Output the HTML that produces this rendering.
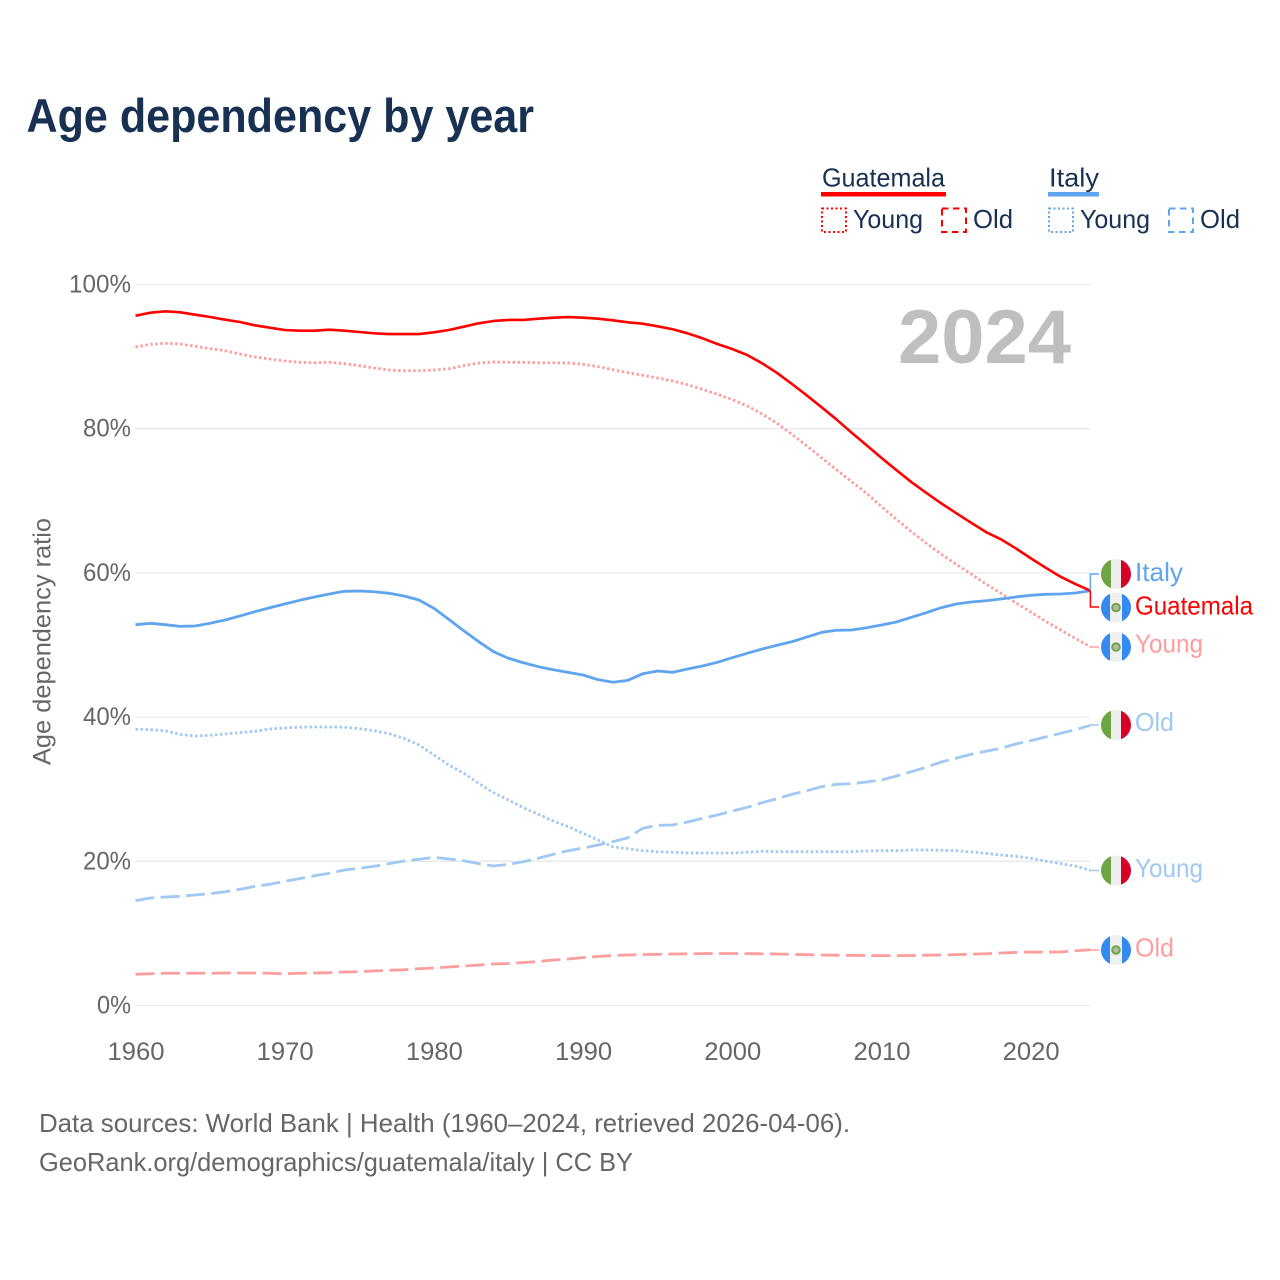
<!DOCTYPE html>
<html lang="en">
<head>
<meta charset="utf-8">
<title>Age dependency by year</title>
<style>
html,body{margin:0;padding:0;background:#fff;width:1280px;height:1280px;overflow:hidden}
svg{display:block}
text{font-family:"Liberation Sans",sans-serif}
</style>
</head>
<body>
<svg id="chart" xmlns="http://www.w3.org/2000/svg" width="1280" height="1280" viewBox="0 0 1280 1280">
<defs><clipPath id="flag-clip"><circle cx="0" cy="0" r="15"/></clipPath></defs>
<rect x="0" y="0" width="1280" height="1280" fill="#ffffff"/>
<text x="26.5" y="132" font-size="47" font-weight="700" fill="#183153" textLength="507.5" lengthAdjust="spacingAndGlyphs">Age dependency by year</text>

<g fill="#183153" font-size="26">
  <text x="822" y="186.5" textLength="123" lengthAdjust="spacingAndGlyphs">Guatemala</text>
  <rect x="821" y="192" width="125" height="4.5" fill="#ff0000" stroke="none"/>
  <rect x="822" y="208.5" width="24" height="23.5" fill="none" stroke="#ff0000" stroke-width="2" stroke-dasharray="2 2.5"/>
  <text x="853" y="228" textLength="70" lengthAdjust="spacingAndGlyphs">Young</text>
  <rect x="942" y="208.5" width="24" height="23.5" fill="none" stroke="#ff0000" stroke-width="2" stroke-dasharray="6.5 4.5"/>
  <text x="973" y="228" textLength="40" lengthAdjust="spacingAndGlyphs">Old</text>
  <text x="1049" y="186.5" textLength="50" lengthAdjust="spacingAndGlyphs">Italy</text>
  <rect x="1048" y="192" width="51" height="4.5" fill="#5fa5ee" stroke="none"/>
  <rect x="1049" y="208.5" width="24" height="23.5" fill="none" stroke="#5fa5ee" stroke-width="2" stroke-dasharray="2 2.5"/>
  <text x="1080" y="228" textLength="70" lengthAdjust="spacingAndGlyphs">Young</text>
  <rect x="1169" y="208.5" width="24" height="23.5" fill="none" stroke="#5fa5ee" stroke-width="2" stroke-dasharray="6.5 4.5"/>
  <text x="1200" y="228" textLength="40" lengthAdjust="spacingAndGlyphs">Old</text>
</g>

<g id="grid"></g>
<g id="y-ticks" font-size="25" fill="#666666" text-anchor="end"></g>
<g id="x-ticks" font-size="25" fill="#666666" text-anchor="middle"></g>
<text transform="translate(50.5,765) rotate(-90)" font-size="25" fill="#666666" textLength="247" lengthAdjust="spacingAndGlyphs">Age dependency ratio</text>
<text x="898" y="363" font-size="76" font-weight="700" fill="#bfbfbf" textLength="173" lengthAdjust="spacingAndGlyphs">2024</text>

<g id="series" fill="none"></g>

<g transform="translate(1116,574)"><g clip-path="url(#flag-clip)"><rect x="-15" y="-15" width="30" height="30" fill="#eeeeee"/><rect x="-15" y="-15" width="10" height="30" fill="#6da544"/><rect x="5" y="-15" width="10" height="30" fill="#d80027"/></g></g>
<g transform="translate(1116,607.5)"><g clip-path="url(#flag-clip)"><rect x="-15" y="-15" width="30" height="30" fill="#f0f0f0"/><rect x="-15" y="-15" width="9" height="30" fill="#338af3"/><rect x="6" y="-15" width="9" height="30" fill="#338af3"/><circle r="3.8" fill="#b9b9a6" stroke="#6da544" stroke-width="2"/></g></g>
<g transform="translate(1116,647)"><g clip-path="url(#flag-clip)"><rect x="-15" y="-15" width="30" height="30" fill="#f0f0f0"/><rect x="-15" y="-15" width="9" height="30" fill="#338af3"/><rect x="6" y="-15" width="9" height="30" fill="#338af3"/><circle r="3.8" fill="#b9b9a6" stroke="#6da544" stroke-width="2"/></g></g>
<g transform="translate(1116,725)"><g clip-path="url(#flag-clip)"><rect x="-15" y="-15" width="30" height="30" fill="#eeeeee"/><rect x="-15" y="-15" width="10" height="30" fill="#6da544"/><rect x="5" y="-15" width="10" height="30" fill="#d80027"/></g></g>
<g transform="translate(1116,870.5)"><g clip-path="url(#flag-clip)"><rect x="-15" y="-15" width="30" height="30" fill="#eeeeee"/><rect x="-15" y="-15" width="10" height="30" fill="#6da544"/><rect x="5" y="-15" width="10" height="30" fill="#d80027"/></g></g>
<g transform="translate(1116,950)"><g clip-path="url(#flag-clip)"><rect x="-15" y="-15" width="30" height="30" fill="#f0f0f0"/><rect x="-15" y="-15" width="9" height="30" fill="#338af3"/><rect x="6" y="-15" width="9" height="30" fill="#338af3"/><circle r="3.8" fill="#b9b9a6" stroke="#6da544" stroke-width="2"/></g></g>

<g font-size="26">
  <text x="1135" y="581" fill="#5fa5ee" textLength="48" lengthAdjust="spacingAndGlyphs">Italy</text>
  <text x="1135" y="614.5" fill="#ff0000" textLength="118" lengthAdjust="spacingAndGlyphs">Guatemala</text>
  <text x="1135" y="652.5" fill="#ff9d9d" textLength="68" lengthAdjust="spacingAndGlyphs">Young</text>
  <text x="1135" y="731" fill="#9fc8f2" textLength="39" lengthAdjust="spacingAndGlyphs">Old</text>
  <text x="1135" y="877" fill="#9fc8f2" textLength="68" lengthAdjust="spacingAndGlyphs">Young</text>
  <text x="1135" y="956.5" fill="#ff9d9d" textLength="39" lengthAdjust="spacingAndGlyphs">Old</text>
</g>

<text x="39" y="1132" font-size="26" fill="#666666" textLength="811" lengthAdjust="spacingAndGlyphs">Data sources: World Bank | Health (1960–2024, retrieved 2026-04-06).</text>
<text x="39" y="1171" font-size="26" fill="#666666" textLength="594" lengthAdjust="spacingAndGlyphs">GeoRank.org/demographics/guatemala/italy | CC BY</text>
</svg>

<script>
const startYear = 1960;
const yTickValues = [0, 20, 40, 60, 80, 100];
const yTickLabels = ["0%", "20%", "40%", "60%", "80%", "100%"];
const xTickYears = [1960, 1970, 1980, 1990, 2000, 2010, 2020];
const guatemalaTotal = [95.67,96.09,96.28,96.14,95.81,95.49,95.12,94.80,94.34,94.01,93.69,93.59,93.59,93.73,93.59,93.41,93.23,93.13,93.13,93.13,93.37,93.69,94.15,94.62,94.94,95.08,95.08,95.26,95.40,95.49,95.40,95.26,95.03,94.76,94.56,94.20,93.79,93.23,92.54,91.75,91.05,90.22,89.07,87.73,86.20,84.60,82.95,81.25,79.45,77.70,75.95,74.25,72.60,71.10,69.65,68.30,66.96,65.67,64.66,63.41,62.03,60.72,59.47,58.45,57.53];
const guatemalaYoung = [91.33,91.71,91.84,91.75,91.43,91.10,90.82,90.36,89.94,89.67,89.39,89.21,89.15,89.21,89.02,88.74,88.42,88.14,88.04,88.04,88.14,88.32,88.74,89.11,89.25,89.21,89.21,89.15,89.15,89.11,88.93,88.60,88.18,87.77,87.41,87.03,86.62,86.10,85.46,84.77,84.05,83.15,82.04,80.75,79.20,77.60,75.94,74.27,72.65,71.04,69.18,67.43,65.71,64.11,62.62,61.19,59.85,58.46,57.17,55.85,54.58,53.30,52.08,50.90,49.76];
const guatemalaOld = [4.33,4.40,4.47,4.47,4.47,4.47,4.51,4.51,4.51,4.47,4.40,4.47,4.51,4.55,4.65,4.69,4.79,4.88,4.96,5.10,5.20,5.34,5.48,5.62,5.76,5.83,5.96,6.10,6.31,6.45,6.66,6.80,6.93,7.00,7.07,7.10,7.14,7.17,7.20,7.21,7.21,7.19,7.17,7.14,7.10,7.05,7.00,6.98,6.95,6.93,6.92,6.92,6.93,6.98,7.00,7.06,7.12,7.18,7.28,7.36,7.42,7.41,7.42,7.59,7.73];
const italyTotal = [52.82,53.01,52.82,52.59,52.64,53.01,53.47,54.02,54.62,55.17,55.69,56.20,56.66,57.07,57.45,57.49,57.39,57.17,56.80,56.24,55.09,53.56,51.98,50.46,49.07,48.16,47.54,46.99,46.57,46.21,45.84,45.19,44.83,45.10,46.02,46.39,46.21,46.67,47.09,47.60,48.24,48.85,49.45,49.96,50.46,51.11,51.76,52.04,52.08,52.40,52.77,53.19,53.84,54.48,55.17,55.69,55.96,56.14,56.38,56.66,56.89,57.03,57.07,57.21,57.53];
const italyYoung = [38.31,38.25,38.11,37.61,37.38,37.48,37.66,37.84,38.03,38.35,38.49,38.59,38.63,38.63,38.59,38.39,38.11,37.70,37.06,36.13,34.74,33.36,32.21,30.82,29.51,28.50,27.43,26.52,25.59,24.80,23.88,22.95,22.02,21.75,21.47,21.33,21.25,21.15,21.15,21.15,21.15,21.25,21.39,21.33,21.33,21.33,21.33,21.33,21.33,21.43,21.47,21.47,21.57,21.57,21.52,21.47,21.29,21.11,20.87,20.69,20.42,20.04,19.67,19.35,18.75];
const italyOld = [14.54,14.91,15.05,15.15,15.33,15.51,15.78,16.12,16.53,16.81,17.23,17.59,18.00,18.34,18.79,19.03,19.31,19.67,20.04,20.28,20.55,20.32,20.08,19.67,19.35,19.58,19.94,20.42,20.97,21.47,21.84,22.26,22.72,23.27,24.58,24.99,25.03,25.45,25.96,26.42,26.98,27.49,28.13,28.68,29.29,29.79,30.35,30.68,30.76,31.00,31.28,31.83,32.43,33.04,33.77,34.29,34.84,35.26,35.67,36.27,36.73,37.24,37.75,38.25,38.86];

const SVGNS = "http://www.w3.org/2000/svg";
function xScale(year) { return 135.5 + (year - 1960) * 14.92; }
function yScale(value) { return 1005.5 - value * 7.21; }
function linePath(values) {
  return values.map(function (v, i) {
    return (i ? "L" : "M") + xScale(startYear + i).toFixed(2) + " " + yScale(v).toFixed(2);
  }).join(" ");
}
function make(tag, attrs, parent) {
  const node = document.createElementNS(SVGNS, tag);
  Object.keys(attrs).forEach(function (k) { node.setAttribute(k, attrs[k]); });
  parent.appendChild(node);
  return node;
}

const gridGroup = document.getElementById("grid");
const yTickGroup = document.getElementById("y-ticks");
const xTickGroup = document.getElementById("x-ticks");
const seriesGroup = document.getElementById("series");
const yLabelWidths = { "0%": 34, "20%": 48, "40%": 48, "60%": 48, "80%": 48, "100%": 62 };

yTickValues.forEach(function (v, i) {
  const line = make("line", { x1: 135, x2: xScale(2024), y1: yScale(v), y2: yScale(v), stroke: "#e9e9e9", "stroke-width": 1.3 }, gridGroup);
  
  
  const label = make("text", { x: 131, y: yScale(v) + 8, textLength: yLabelWidths[yTickLabels[i]], lengthAdjust: "spacingAndGlyphs" }, yTickGroup);
  
  
  label.textContent = yTickLabels[i];
});

xTickYears.forEach(function (year) {
  const label = make("text", { x: xScale(year) + 0.5, y: 1060, textLength: 57, lengthAdjust: "spacingAndGlyphs" }, xTickGroup);
  
  
  label.textContent = year;
});

function drawSeries(values, color, width, dash, name) {
  const attrs = { d: linePath(values), stroke: color, "stroke-width": width, "stroke-linejoin": "round", fill: "none" };
  if (dash) attrs["stroke-dasharray"] = dash;
  const path = make("path", attrs, seriesGroup);
  
  
}
drawSeries(guatemalaYoung, "#ff9d9d", 2.8, "2.5 2.5", "line-guatemala-young");
drawSeries(guatemalaOld, "#ff9d9d", 2.8, "19 6.4", "line-guatemala-old");
drawSeries(italyYoung, "#9fc8f2", 2.8, "2.5 2.5", "line-italy-young");
drawSeries(italyOld, "#9fc8f2", 2.8, "19 6.4", "line-italy-old");
drawSeries(italyTotal, "#5fa5ee", 2.8, null, "line-italy-total");
drawSeries(guatemalaTotal, "#ff0000", 2.6, null, "line-guatemala-total");

function drawConnector(value, flagY, color, name) {
  const xEnd = xScale(2024);
  const d = "M" + xEnd + " " + yScale(value).toFixed(2) + " V" + flagY + " H1099";
  const path = make("path", { d: d, stroke: color, "stroke-width": 1.5, fill: "none" }, seriesGroup);
  
  
}
drawConnector(italyTotal[italyTotal.length - 1], 574, "#5fa5ee", "connector-italy-total");
drawConnector(guatemalaTotal[guatemalaTotal.length - 1], 607, "#ff0000", "connector-guatemala-total");
drawConnector(guatemalaYoung[guatemalaYoung.length - 1], 647, "#ff9d9d", "connector-guatemala-young");
drawConnector(italyOld[italyOld.length - 1], 725, "#9fc8f2", "connector-italy-old");
drawConnector(italyYoung[italyYoung.length - 1], 870.5, "#9fc8f2", "connector-italy-young");
drawConnector(guatemalaOld[guatemalaOld.length - 1], 950, "#ff9d9d", "connector-guatemala-old");
</script>
</body>
</html>
